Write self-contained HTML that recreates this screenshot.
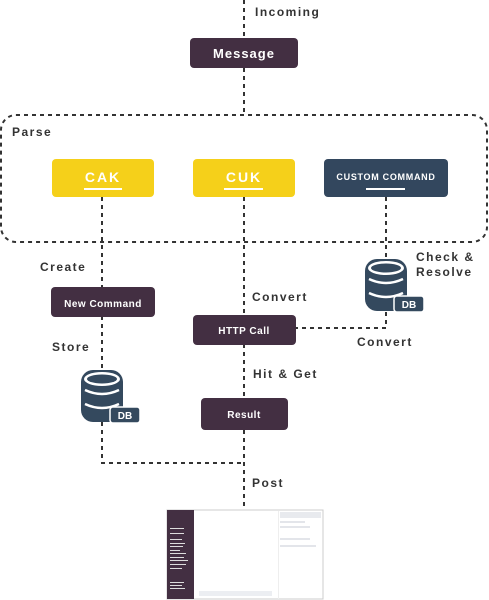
<!DOCTYPE html>
<html><head><style>
html,body{margin:0;padding:0;background:#fff;}
svg{display:block;}
text{font-family:"Liberation Sans",sans-serif;font-weight:bold;}
</style></head><body>
<svg width="489" height="600" viewBox="0 0 489 600" xmlns="http://www.w3.org/2000/svg">
<defs>
<g id="db">
  <rect x="0" y="0" width="42" height="52" rx="12" fill="#34495e"/>
  <ellipse cx="21" cy="9" rx="18" ry="7" fill="#fff"/>
  <ellipse cx="21" cy="9" rx="15" ry="4.5" fill="#34495e"/>
  <path d="M4 20 Q21 28 38 20" stroke="#fff" stroke-width="2.5" fill="none"/>
  <path d="M4 34 Q21 42 38 34" stroke="#fff" stroke-width="2.5" fill="none"/>
  <rect x="29" y="37" width="30" height="16" rx="3" fill="#34495e" stroke="#fff" stroke-width="1.5"/>
  <text x="44" y="49" font-size="10" fill="#fff" text-anchor="middle">DB</text>
</g>
</defs>
<g stroke="#333" stroke-width="2" stroke-dasharray="4,4" fill="none">
  <line x1="244" y1="0" x2="244" y2="38"/>
  <line x1="244" y1="68" x2="244" y2="115"/>
  <rect x="1" y="115" width="486" height="127" rx="15"/>
  <line x1="102" y1="197" x2="102" y2="288"/>
  <line x1="244" y1="197" x2="244" y2="315"/>
  <line x1="386" y1="197" x2="386" y2="258"/>
  <polyline points="386,312 386,328 296,328"/>
  <line x1="102" y1="316" x2="102" y2="368"/>
  <polyline points="102,422 102,463 244,463"/>
  <line x1="244" y1="344" x2="244" y2="398"/>
  <line x1="244" y1="430" x2="244" y2="510"/>
</g>
<g font-size="12" fill="#333" letter-spacing="1.5">
  <text x="255" y="16">Incoming</text>
  <text x="12" y="136">Parse</text>
  <text x="40" y="271">Create</text>
  <text x="252" y="301">Convert</text>
  <text x="416" y="261">Check &amp;</text>
  <text x="416" y="276">Resolve</text>
  <text x="357" y="346">Convert</text>
  <text x="52" y="351">Store</text>
  <text x="253" y="378">Hit &amp; Get</text>
  <text x="252" y="487">Post</text>
</g>
<rect x="190" y="38" width="108" height="30" rx="4" fill="#432f42"/>
<text x="244" y="58" font-size="13" fill="#fff" text-anchor="middle" letter-spacing="1">Message</text>
<rect x="52" y="159" width="102" height="38" rx="4" fill="#f5d01a"/>
<text x="103" y="182" font-size="14" fill="#fff" text-anchor="middle" letter-spacing="2">CAK</text>
<rect x="84" y="188" width="38" height="2" fill="#fff"/>
<rect x="193" y="159" width="102" height="38" rx="4" fill="#f5d01a"/>
<text x="244" y="182" font-size="14" fill="#fff" text-anchor="middle" letter-spacing="2">CUK</text>
<rect x="224" y="188" width="39" height="2" fill="#fff"/>
<rect x="324" y="159" width="124" height="38" rx="4" fill="#33475e"/>
<text x="386" y="180" font-size="9" fill="#fff" text-anchor="middle" letter-spacing="0.7">CUSTOM COMMAND</text>
<rect x="366" y="188" width="39" height="2" fill="#fff"/>
<rect x="51" y="287" width="104" height="30" rx="4" fill="#432f42"/>
<text x="103" y="307" font-size="10" fill="#fff" text-anchor="middle" letter-spacing="0.5">New Command</text>
<rect x="193" y="315" width="103" height="30" rx="4" fill="#432f42"/>
<text x="244" y="334" font-size="10" fill="#fff" text-anchor="middle" letter-spacing="0.5">HTTP Call</text>
<rect x="201" y="398" width="87" height="32" rx="4" fill="#432f42"/>
<text x="244" y="418" font-size="10" fill="#fff" text-anchor="middle" letter-spacing="0.5">Result</text>
<use href="#db" x="365" y="259"/>
<use href="#db" x="81" y="370"/>
<!-- screenshot -->
<rect x="167" y="510" width="156" height="89" fill="#fff" stroke="#ccc" stroke-width="1"/>
<rect x="167" y="510" width="27" height="89" fill="#432f42"/>
<rect x="278" y="511" width="1" height="88" fill="#eee"/>
<rect x="280" y="512" width="41" height="6" fill="#e8eaee"/>
<rect x="280" y="521" width="25" height="2" fill="#e3e5ea"/>
<rect x="280" y="526" width="30" height="2" fill="#e3e5ea"/>
<rect x="280" y="538" width="30" height="2" fill="#e3e5ea"/>
<rect x="280" y="545" width="36" height="2" fill="#e3e5ea"/>
<rect x="199" y="591" width="73" height="5" fill="#eceef2"/>
<g fill="#ddd">
  <rect x="170" y="528" width="14" height="1"/><rect x="170" y="533" width="14" height="1"/>
  <rect x="170" y="539" width="12" height="1"/><rect x="170" y="543" width="15" height="1"/>
  <rect x="170" y="546" width="13" height="1"/><rect x="170" y="550" width="10" height="1"/>
  <rect x="170" y="553" width="16" height="1"/><rect x="170" y="557" width="14" height="1"/>
  <rect x="170" y="560" width="18" height="1"/><rect x="170" y="564" width="16" height="1"/>
  <rect x="170" y="568" width="12" height="1"/><rect x="170" y="582" width="14" height="1"/>
  <rect x="170" y="585" width="12" height="1"/><rect x="170" y="588" width="15" height="1"/>
</g>
</svg>
</body></html>
